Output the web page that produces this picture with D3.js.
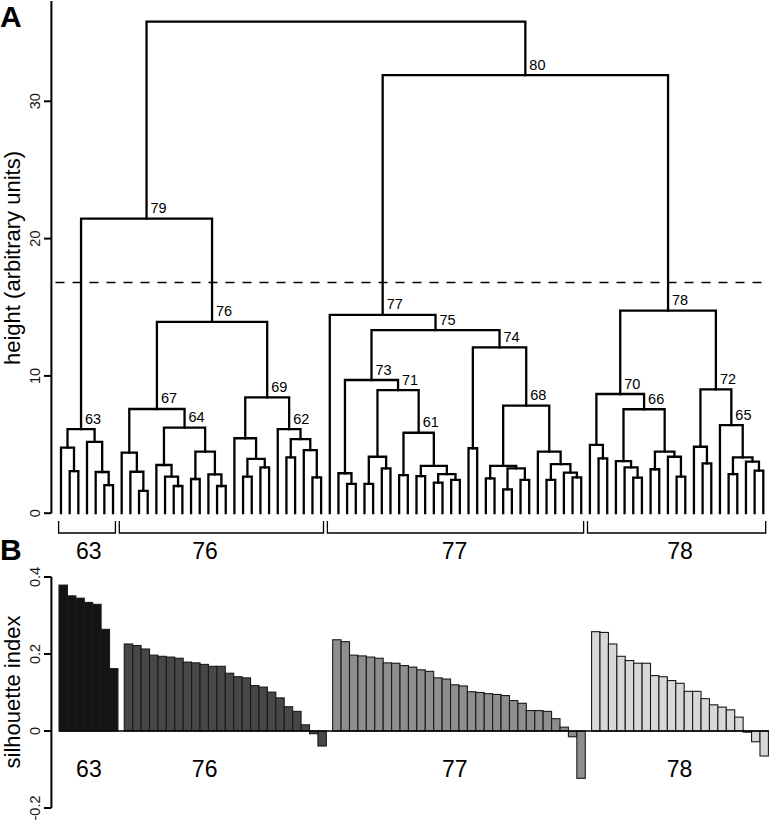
<!DOCTYPE html>
<html><head><meta charset="utf-8">
<script src="https://cdn.jsdelivr.net/npm/d3@7"></script>
<style>body{margin:0;background:#fff}svg{display:block}</style>
</head><body>
<svg id="chart" width="769" height="820"></svg>
<script>
// ================= DATA =================
// Dendrogram (panel A). Internal node = [height, left, right, label]; leaf = 0 (leaves in plotted order)
const tree63 = [6.13, [4.77, 0, [3.07, 0, 0]], [5.2, 0, [3.0, 0, [2.05, 0, 0]]], "63"];
const tree64 = [6.23, [3.51, 0, [2.66, 0, [1.98, 0, 0]]], [4.48, [2.49, 0, 0], [2.83, 0, [1.98, 0, 0]]], "64"];
const tree67 = [7.59, [4.41, 0, [3.02, 0, [1.62, 0, 0]]], tree64, "67"];
const tree62 = [6.13, 0, [5.4, [4.07, 0, 0], [4.6, 0, [2.61, 0, 0]]], "62"];
const tree69 = [8.44, [5.46, 0, [3.95, [2.66, 0, 0], [3.34, 0, 0]]], tree62, "69"];
const tree76 = [13.94, tree67, tree69, "76"];
const tree61 = [5.86, [2.78, 0, 0], [3.44, [2.7, 0, 0], [2.85, [2.22, 0, 0], [2.42, 0, 0]]], "61"];
const tree71 = [8.97, [4.11, [2.13, 0, 0], [3.27, 0, 0]], tree61, "71"];
const tree73 = [9.70, [2.91, 0, [2.13, 0, 0]], tree71, "73"];
const tree68 = [7.83, [3.44, [2.54, 0, 0], [3.27, [1.74, 0, 0], [2.42, 0, 0]]],
                [4.48, 0, [3.58, [2.42, 0, 0], [2.95, 0, [2.61, 0, 0]]]], "68"];
const tree74 = [12.08, [4.73, 0, 0], tree68, "74"];
const tree75 = [13.34, tree73, tree74, "75"];
const tree77 = [14.45, 0, tree75, "77"];
const tree66 = [7.57, [3.80, 0, [3.34, 0, [2.59, 0, 0]]], [4.48, [3.20, 0, 0], [4.11, 0, [2.66, 0, 0]]], "66"];
const tree70 = [8.68, [4.97, 0, [4.0, 0, 0]], tree66, "70"];
const tree65 = [6.42, 0, [4.07, [2.85, 0, 0], [3.75, 0, [3.1, 0, 0]]], "65"];
const tree72 = [9.02, [4.84, 0, [3.63, 0, 0]], tree65, "72"];
const tree78 = [14.75, tree70, tree72, "78"];
const tree79 = [21.45, tree63, tree76, "79"];
const tree80 = [31.9, tree77, tree78, "80"];
const treeRoot = [35.8, tree79, tree80, ""];
const nLeaves = 82;
const cutHeight = 16.8;
const yTicksA = [0, 10, 20, 30];
const yTitleA = "height (arbitrary units)";

// Clusters
const clusterNames = ["63", "76", "77", "78"];
const clusterSizes = [7, 24, 30, 21];
const clusterLabelLeafPos = [3.2, 16.6, 45.4, 71.4];   // label centre, in leaf units

// Silhouette (panel B)
const sil63 = [0.379, 0.351, 0.345, 0.334, 0.329, 0.264, 0.162];
const sil76 = [0.226, 0.222, 0.213, 0.197, 0.194, 0.192, 0.189, 0.179, 0.177, 0.173, 0.168, 0.168,
               0.150, 0.141, 0.138, 0.118, 0.114, 0.101, 0.086, 0.063, 0.051, 0.016, -0.007, -0.039];
const sil77 = [0.237, 0.232, 0.197, 0.195, 0.192, 0.189, 0.177, 0.176, 0.170, 0.166, 0.159, 0.155,
               0.138, 0.135, 0.120, 0.117, 0.102, 0.100, 0.097, 0.095, 0.092, 0.079, 0.072, 0.053,
               0.053, 0.051, 0.032, 0.010, -0.015, -0.123];
const sil78 = [0.258, 0.256, 0.226, 0.194, 0.183, 0.176, 0.176, 0.144, 0.141, 0.131, 0.124, 0.103,
               0.103, 0.084, 0.068, 0.062, 0.055, 0.036, -0.003, -0.028, -0.065];
const silSeries = [sil63, sil76, sil77, sil78];
const silColors = ["#141414", "#474747", "#8e8e8e", "#d8d8d8"];
const yTicksB = [-0.2, 0, 0.2, 0.4];
const yTickLabelsB = ["-0.2", "0", "0.2", "0.4"];
const yTitleB = "silhouette index";
const clusterLabelBarPos = [3.55, 17.3, 47.0, 73.7];   // label centre, in bar units

// ================= DRAW =================
const svg = d3.select("#chart");
const font = "'Liberation Sans', Arial, Helvetica, sans-serif";
const narrow = "'Liberation Sans Narrow', 'Arial Narrow', 'Liberation Sans', sans-serif";

// ---- Panel A ----
const xA = d3.scaleLinear().domain([0, nLeaves - 1]).range([61, 763.3]);
const yA = d3.scaleLinear().domain([0, 30]).range([513.2, 101.3]);
const gA = svg.append("g");

let leafCounter = 0;
const segs = [], labels = [];
function walk(node) {
  if (!Array.isArray(node)) return { x: leafCounter++, h: 0 };
  const l = walk(node[1]), r = walk(node[2]);
  const x = (l.x + r.x) / 2, h = node[0];
  segs.push({ l, r, h });
  if (node[3]) labels.push({ x, h, t: node[3] });
  return { x, h };
}
walk(treeRoot);

gA.selectAll("path.seg").data(segs).join("path")
  .attr("class", "seg")
  .attr("d", d => `M${xA(d.l.x)},${yA(d.l.h)}V${yA(d.h)}H${xA(d.r.x)}V${yA(d.r.h)}`)
  .attr("fill", "none").attr("stroke", "#000").attr("stroke-width", 2.3)
  .attr("stroke-linejoin", "miter").attr("stroke-linecap", "square");

gA.selectAll("text.node").data(labels).join("text")
  .attr("x", d => xA(d.x) + 4).attr("y", d => yA(d.h) - 5.5)
  .attr("font-family", font).attr("font-size", 14.5).text(d => d.t);

// cut line
gA.append("line")
  .attr("x1", 55.5).attr("x2", 769).attr("y1", yA(cutHeight)).attr("y2", yA(cutHeight))
  .attr("stroke", "#000").attr("stroke-width", 1.6).attr("stroke-dasharray", "9,8");

// y axis A
const axA = gA.append("g");
axA.append("line").attr("x1", 51.4).attr("x2", 51.4).attr("y1", yA(0)).attr("y2", 1)
  .attr("stroke", "#000").attr("stroke-width", 2);
axA.selectAll("line.tick").data(yTicksA).join("line").attr("class", "tick")
  .attr("x1", 44).attr("x2", 51.4).attr("y1", d => yA(d)).attr("y2", d => yA(d))
  .attr("stroke", "#000").attr("stroke-width", 2);
axA.selectAll("text").data(yTicksA).join("text")
  .attr("transform", d => `translate(40,${yA(d)}) rotate(-90)`)
  .attr("text-anchor", "middle").attr("font-family", font).attr("font-size", 14.5)
  .attr("fill", "#111").text(d => d);
axA.append("text").attr("transform", `translate(20,258) rotate(-90)`)
  .attr("text-anchor", "middle").attr("font-family", font).attr("font-size", 22)
  .text(yTitleA);

// cluster brackets
let start = 0;
const brackets = clusterSizes.map((n, i) => { const b = { a: start, b: start + n - 1, i }; start += n; return b; });
gA.selectAll("path.br").data(brackets).join("path").attr("class", "br")
  .attr("d", d => `M${xA(d.a) - 2.4},521V533H${xA(d.b) + 2.4}V521`)
  .attr("fill", "none").attr("stroke", "#000").attr("stroke-width", 1.3);
gA.selectAll("text.cl").data(clusterNames).join("text").attr("class", "cl")
  .attr("x", (d, i) => xA(clusterLabelLeafPos[i])).attr("y", 559)
  .attr("text-anchor", "middle").attr("font-family", narrow).attr("font-size", 23).text(d => d);

svg.append("text").attr("x", 0).attr("y", 26.5).attr("font-family", font)
  .attr("font-weight", "bold").attr("font-size", 30).text("A");

// ---- Panel B ----
const gapUnits = 0.75;
const totalUnits = nLeaves + gapUnits * (clusterSizes.length - 1);
const xB = d3.scaleLinear().domain([0, totalUnits]).range([59, 768.4]);
const yB = d3.scaleLinear().domain([-0.2, 0.4]).range([808, 577]);
const gB = svg.append("g");
const bars = [];
let idx = 0;
silSeries.forEach((s, c) => s.forEach(v => { bars.push({ u: idx + c * gapUnits, v, c }); idx++; }));
gB.selectAll("rect").data(bars).join("rect")
  .attr("x", d => xB(d.u)).attr("width", d => xB(d.u + 1) - xB(d.u))
  .attr("y", d => yB(Math.max(0, d.v))).attr("height", d => Math.abs(yB(d.v) - yB(0)))
  .attr("fill", d => silColors[d.c]).attr("stroke", "#1a1a1a").attr("stroke-width", 1.1);
gB.append("line").attr("x1", xB(0)).attr("x2", 769).attr("y1", yB(0)).attr("y2", yB(0))
  .attr("stroke", "#000").attr("stroke-width", 1.6);

const axB = gB.append("g");
axB.append("line").attr("x1", 51.4).attr("x2", 51.4).attr("y1", yB(-0.2)).attr("y2", yB(0.4))
  .attr("stroke", "#000").attr("stroke-width", 2);
axB.selectAll("line.tick").data(yTicksB).join("line").attr("class", "tick")
  .attr("x1", 44).attr("x2", 51.4).attr("y1", d => yB(d)).attr("y2", d => yB(d))
  .attr("stroke", "#000").attr("stroke-width", 2);
axB.selectAll("text").data(yTicksB).join("text")
  .attr("transform", d => `translate(40,${yB(d)}) rotate(-90)`)
  .attr("text-anchor", "middle").attr("font-family", font).attr("font-size", 14.5)
  .attr("fill", "#111").text((d, i) => yTickLabelsB[i]);
axB.append("text").attr("transform", `translate(20,692) rotate(-90)`)
  .attr("text-anchor", "middle").attr("font-family", font).attr("font-size", 22)
  .text(yTitleB);
gB.selectAll("text.cl").data(clusterNames).join("text").attr("class", "cl")
  .attr("x", (d, i) => xB(clusterLabelBarPos[i])).attr("y", 777)
  .attr("text-anchor", "middle").attr("font-family", narrow).attr("font-size", 23).text(d => d);

svg.append("text").attr("x", 0).attr("y", 560).attr("font-family", font)
  .attr("font-weight", "bold").attr("font-size", 30).text("B");
</script>
</body></html>
